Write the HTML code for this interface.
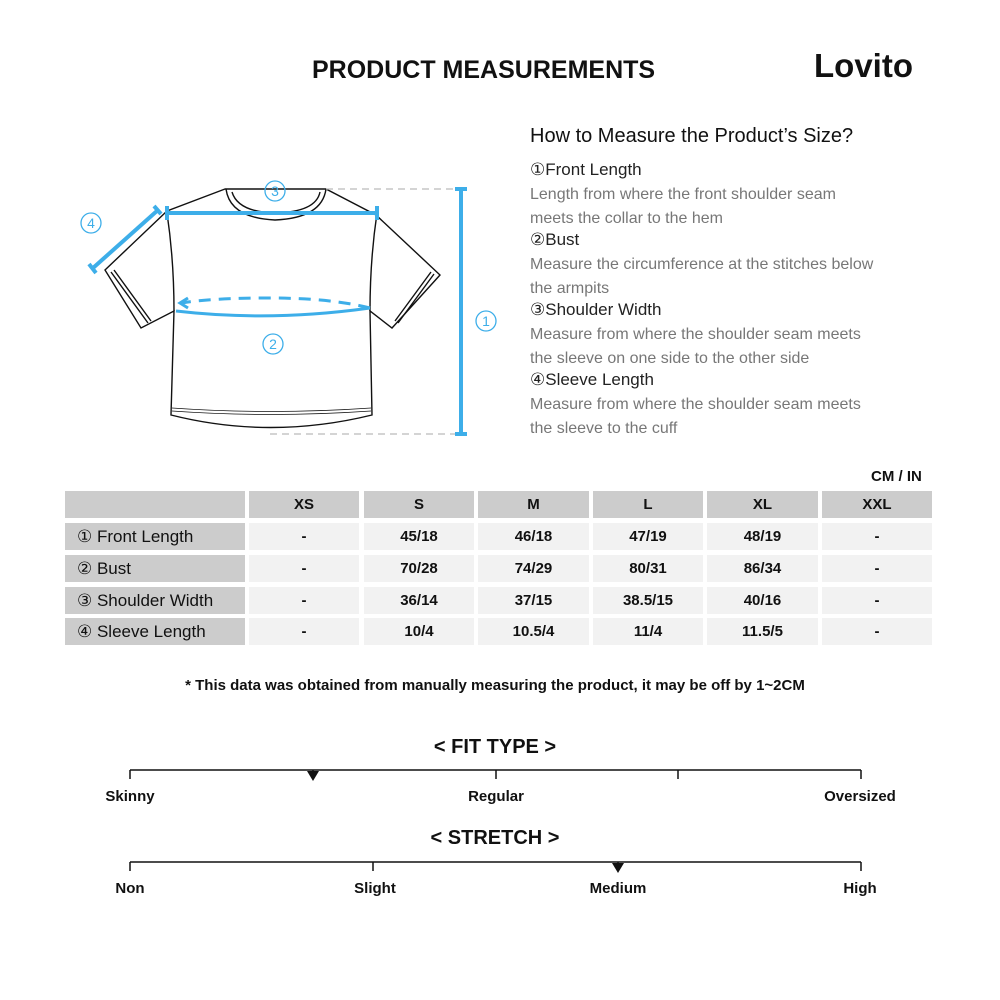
<!DOCTYPE html>
<html><head><meta charset="utf-8"><style>
body{margin:0;width:1000px;height:1000px;background:#fff;position:relative;font-family:"Liberation Sans",sans-serif;overflow:hidden}
.a{position:absolute}
.c{position:absolute;display:flex;align-items:center;justify-content:center;font-size:15px;font-weight:bold;color:#111}
.h{background:#ccc}.d{background:#f2f2f2}
.l{justify-content:flex-start;padding-left:12px;box-sizing:border-box;font-weight:normal;font-size:17px}
.t{color:#222;font-size:17px}.g{color:#777;font-size:16px}
.lab{position:absolute;font-weight:bold;font-size:15px;color:#111;transform:translateX(-50%)}
</style></head><body>
<div class="a" style="left:312px;top:56px;font-size:25px;font-weight:bold;color:#111">PRODUCT MEASUREMENTS</div>
<div class="a" style="left:814px;top:47px;font-size:33px;font-weight:bold;color:#111">Lovito</div>
<div class="a" style="left:530px;top:125px;font-size:20px;color:#111">How to Measure the Product’s Size?</div>
<div class="a t" style="left:530px;top:160px">①Front Length</div>
<div class="a g" style="left:530px;top:183px;line-height:24px">Length from where the front shoulder seam<br>meets the collar to the hem</div>
<div class="a t" style="left:530px;top:230px">②Bust</div>
<div class="a g" style="left:530px;top:253px;line-height:24px">Measure the circumference at the stitches below<br>the armpits</div>
<div class="a t" style="left:530px;top:300px">③Shoulder Width</div>
<div class="a g" style="left:530px;top:323px;line-height:24px">Measure from where the shoulder seam meets<br>the sleeve on one side to the other side</div>
<div class="a t" style="left:530px;top:370px">④Sleeve Length</div>
<div class="a g" style="left:530px;top:393px;line-height:24px">Measure from where the shoulder seam meets<br>the sleeve to the cuff</div>

<svg class="a" style="left:0;top:0" width="520" height="450">
<g fill="none" stroke="#111" stroke-width="1.4">
<path d="M225 189 L167 211 L105 270 L141 328 L174 311 L171 415 Q270 440 372 415 L370 311 L392 328 L440 275 L376 215 L326 189 Z"/>
<path d="M167 213 Q174 260 174 311 M377 213 Q370 260 370 311"/>
<path d="M226 189 Q230 218 275 220 Q322 218 326 189"/>
<path d="M232 192 Q238 212 275 213 Q316 212 320 192"/>
<path d="M111 272 L148 323 M114 270 L151 321 M431 272 L395 321 M434 274 L398 323"/>
<path d="M172 408 Q270 415 371 408 M172 411 Q270 418 371 411" stroke-width="0.7"/>
</g>
<g stroke="#bbb" stroke-width="1.3" stroke-dasharray="7 5"><line x1="326" y1="189" x2="462" y2="189"/><line x1="270" y1="434" x2="462" y2="434"/></g>
<g stroke="#3daee9" stroke-width="4" fill="none">
<line x1="167" y1="213" x2="377" y2="213"/><line x1="167" y1="206" x2="167" y2="220"/><line x1="377" y1="206" x2="377" y2="220"/>
<line x1="461" y1="189" x2="461" y2="434"/><line x1="455" y1="189" x2="467" y2="189"/><line x1="455" y1="434" x2="467" y2="434"/>
<line x1="93" y1="268" x2="158" y2="210"/><line x1="89" y1="264" x2="96" y2="273"/><line x1="154" y1="206" x2="161" y2="214"/>
<path d="M176 311 Q270 322 370 308" stroke-width="3"/>
<path d="M370 308 Q330 298 270 298 Q210 298 182 303" stroke-width="3" stroke-dasharray="12 8"/>
<path d="M188 298 L180 303 L188 308" stroke-width="3"/>
</g>
<g fill="none" stroke="#3daee9" stroke-width="1.3"><circle cx="275" cy="191" r="10"/><circle cx="91" cy="223" r="10"/><circle cx="273" cy="344" r="10"/><circle cx="486" cy="321" r="10"/></g>
<g fill="#3daee9" font-size="14" text-anchor="middle" font-family="Liberation Sans"><text x="275" y="196">3</text><text x="91" y="228">4</text><text x="273" y="349">2</text><text x="486" y="326">1</text></g>
</svg>

<div class="a" style="left:871px;top:468px;font-size:15px;font-weight:bold;color:#111">CM / IN</div>
<div class="c h" style="left:65px;top:491px;width:180px;height:27px"></div>
<div class="c h" style="left:249px;top:491px;width:110px;height:27px">XS</div>
<div class="c h" style="left:364px;top:491px;width:110px;height:27px">S</div>
<div class="c h" style="left:478px;top:491px;width:111px;height:27px">M</div>
<div class="c h" style="left:593px;top:491px;width:110px;height:27px">L</div>
<div class="c h" style="left:707px;top:491px;width:111px;height:27px">XL</div>
<div class="c h" style="left:822px;top:491px;width:110px;height:27px">XXL</div>

<div class="c h l" style="left:65px;top:523px;width:180px;height:27px">① Front Length</div>
<div class="c d" style="left:249px;top:523px;width:110px;height:27px">-</div><div class="c d" style="left:364px;top:523px;width:110px;height:27px">45/18</div><div class="c d" style="left:478px;top:523px;width:111px;height:27px">46/18</div><div class="c d" style="left:593px;top:523px;width:110px;height:27px">47/19</div><div class="c d" style="left:707px;top:523px;width:111px;height:27px">48/19</div><div class="c d" style="left:822px;top:523px;width:110px;height:27px">-</div>
<div class="c h l" style="left:65px;top:555px;width:180px;height:27px">② Bust</div>
<div class="c d" style="left:249px;top:555px;width:110px;height:27px">-</div><div class="c d" style="left:364px;top:555px;width:110px;height:27px">70/28</div><div class="c d" style="left:478px;top:555px;width:111px;height:27px">74/29</div><div class="c d" style="left:593px;top:555px;width:110px;height:27px">80/31</div><div class="c d" style="left:707px;top:555px;width:111px;height:27px">86/34</div><div class="c d" style="left:822px;top:555px;width:110px;height:27px">-</div>
<div class="c h l" style="left:65px;top:587px;width:180px;height:27px">③ Shoulder Width</div>
<div class="c d" style="left:249px;top:587px;width:110px;height:27px">-</div><div class="c d" style="left:364px;top:587px;width:110px;height:27px">36/14</div><div class="c d" style="left:478px;top:587px;width:111px;height:27px">37/15</div><div class="c d" style="left:593px;top:587px;width:110px;height:27px">38.5/15</div><div class="c d" style="left:707px;top:587px;width:111px;height:27px">40/16</div><div class="c d" style="left:822px;top:587px;width:110px;height:27px">-</div>
<div class="c h l" style="left:65px;top:618px;width:180px;height:27px">④ Sleeve Length</div>
<div class="c d" style="left:249px;top:618px;width:110px;height:27px">-</div><div class="c d" style="left:364px;top:618px;width:110px;height:27px">10/4</div><div class="c d" style="left:478px;top:618px;width:111px;height:27px">10.5/4</div><div class="c d" style="left:593px;top:618px;width:110px;height:27px">11/4</div><div class="c d" style="left:707px;top:618px;width:111px;height:27px">11.5/5</div><div class="c d" style="left:822px;top:618px;width:110px;height:27px">-</div>

<div class="a" style="left:0;width:990px;top:677px;text-align:center;font-size:15px;font-weight:bold;color:#111">* This data was obtained from manually measuring the product, it may be off by 1~2CM</div>

<div class="a" style="left:0;width:990px;top:736px;text-align:center;font-size:20px;font-weight:bold;color:#111">&lt; FIT TYPE &gt;</div>
<div class="a" style="left:0;width:990px;top:827px;text-align:center;font-size:20px;font-weight:bold;color:#111">&lt; STRETCH &gt;</div>
<svg class="a" style="left:0;top:0" width="1000" height="1000">
<g stroke="#111" stroke-width="1.5">
<line x1="130" y1="770" x2="861" y2="770"/><line x1="130" y1="770" x2="130" y2="779"/><line x1="313" y1="770" x2="313" y2="779"/><line x1="496" y1="770" x2="496" y2="779"/><line x1="678" y1="770" x2="678" y2="779"/><line x1="861" y1="770" x2="861" y2="779"/>
<line x1="130" y1="862" x2="861" y2="862"/><line x1="130" y1="862" x2="130" y2="871"/><line x1="373" y1="862" x2="373" y2="871"/><line x1="618" y1="862" x2="618" y2="871"/><line x1="861" y1="862" x2="861" y2="871"/>
</g>
<polygon points="307,771 319,771 313,781" fill="#111"/>
<polygon points="612,863 624,863 618,873" fill="#111"/>
</svg>
<div class="lab" style="left:130px;top:788px">Skinny</div>
<div class="lab" style="left:496px;top:788px">Regular</div>
<div class="lab" style="left:860px;top:788px">Oversized</div>
<div class="lab" style="left:130px;top:880px">Non</div>
<div class="lab" style="left:375px;top:880px">Slight</div>
<div class="lab" style="left:618px;top:880px">Medium</div>
<div class="lab" style="left:860px;top:880px">High</div>
</body></html>
